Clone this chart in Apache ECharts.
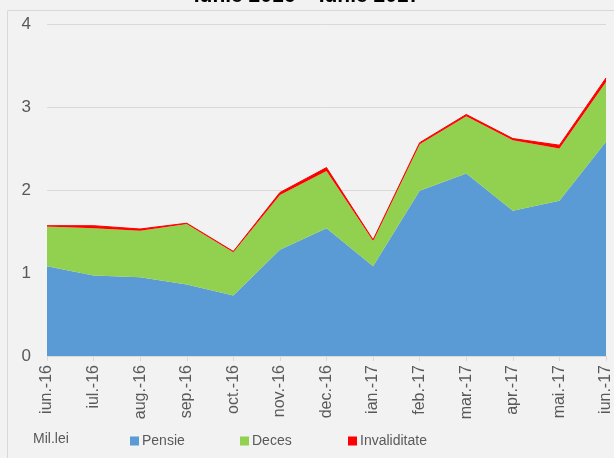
<!DOCTYPE html>
<html>
<head>
<meta charset="utf-8">
<script src="https://cdn.jsdelivr.net/npm/echarts@6/dist/echarts.min.js"></script>
<style>
html, body { margin: 0; padding: 0; background: #f2f2f2; }
#chart { width: 614px; height: 458px; }
</style>
</head>
<body>
<div id="chart"></div>
<script>
// categorii (luni)
const months = ['iun.-16', 'iul.-16', 'aug.-16', 'sep.-16', 'oct.-16', 'nov.-16', 'dec.-16',
	'ian.-17', 'feb.-17', 'mar.-17', 'apr.-17', 'mai.-17', 'iun.-17'];
// valori Mil.lei
const pensie = [1.08, 0.97, 0.95, 0.86, 0.73, 1.28, 1.54, 1.08, 1.99, 2.20, 1.75, 1.87, 2.58];
const deces = [0.48, 0.57, 0.56, 0.73, 0.52, 0.66, 0.69, 0.31, 0.56, 0.69, 0.85, 0.63, 0.72];
const invaliditate = [0.01, 0.03, 0.02, 0.01, 0.01, 0.03, 0.04, 0.01, 0.02, 0.02, 0.02, 0.04, 0.05];
const yTicks = [0, 1, 2, 3, 4];

const font = '"Liberation Sans", Arial, sans-serif';

function areaSeries(name, data, color, lineWidth) {
	return {
		name: name,
		type: 'line',
		stack: 'total',
		data: data,
		symbol: 'none',
		color: color,
		lineStyle: { width: lineWidth, color: color },
		areaStyle: { color: color, opacity: 1 },
		emphasis: { disabled: true }
	};
}

// o legenda pe element, ca sa pot pune fiecare patratel la locul lui
function legendItem(name, left) {
	return {
		data: [name],
		left: left,
		top: 434,
		padding: 0,
		itemWidth: 9,
		itemHeight: 9,
		icon: 'rect',
		textStyle: { fontSize: 14, color: '#595959', fontFamily: font, padding: [0, 0, 0, -2] },
		selectedMode: false
	};
}

const myChart = echarts.init(document.getElementById('chart'));
const option = {
	backgroundColor: '#f2f2f2',
	animation: false,
	textStyle: { fontFamily: font },
	graphic: [
		{
			type: 'rect',
			shape: { x: 7.5, y: 10.5, width: 620, height: 460 },
			style: { fill: 'none', stroke: '#d9d9d9', lineWidth: 1 },
			silent: true
		},
		{
			type: 'text',
			left: 'center',
			top: -14,
			style: {
				text: 'Iunie 2016 – Iunie 2017',
				font: 'bold 21px "Liberation Sans", Arial, sans-serif',
				fill: '#000'
			}
		},
		{
			type: 'text',
			left: 33,
			top: 432,
			style: { text: 'Mil.lei', font: '14px ' + font, fill: '#595959' }
		}
	],
	legend: [
		legendItem('Pensie', 130),
		legendItem('Deces', 240),
		legendItem('Invaliditate', 348)
	],
	grid: { left: 47, right: 6, top: 24, bottom: 102 },
	xAxis: {
		type: 'category',
		data: months,
		boundaryGap: false,
		axisLine: { lineStyle: { color: '#d9d9d9', width: 1 } },
		axisTick: { show: true, alignWithLabel: true, length: 5, lineStyle: { color: '#d9d9d9' } },
		axisLabel: { rotate: 90, interval: 0, margin: 9, fontSize: 16, color: '#595959', fontFamily: font }
	},
	yAxis: {
		type: 'value',
		min: yTicks[0],
		max: yTicks[yTicks.length - 1],
		interval: 1,
		axisLine: { show: false },
		axisTick: { show: false },
		axisLabel: { margin: 16, fontSize: 17, color: '#595959', fontFamily: font },
		splitLine: { lineStyle: { color: '#d9d9d9', width: 1 } }
	},
	series: [
		areaSeries('Pensie', pensie, '#5b9bd5', 0),
		areaSeries('Deces', deces, '#92d050', 0),
		areaSeries('Invaliditate', invaliditate, '#ff0000', 1)
	]
};
myChart.setOption(option);
</script>
</body>
</html>
